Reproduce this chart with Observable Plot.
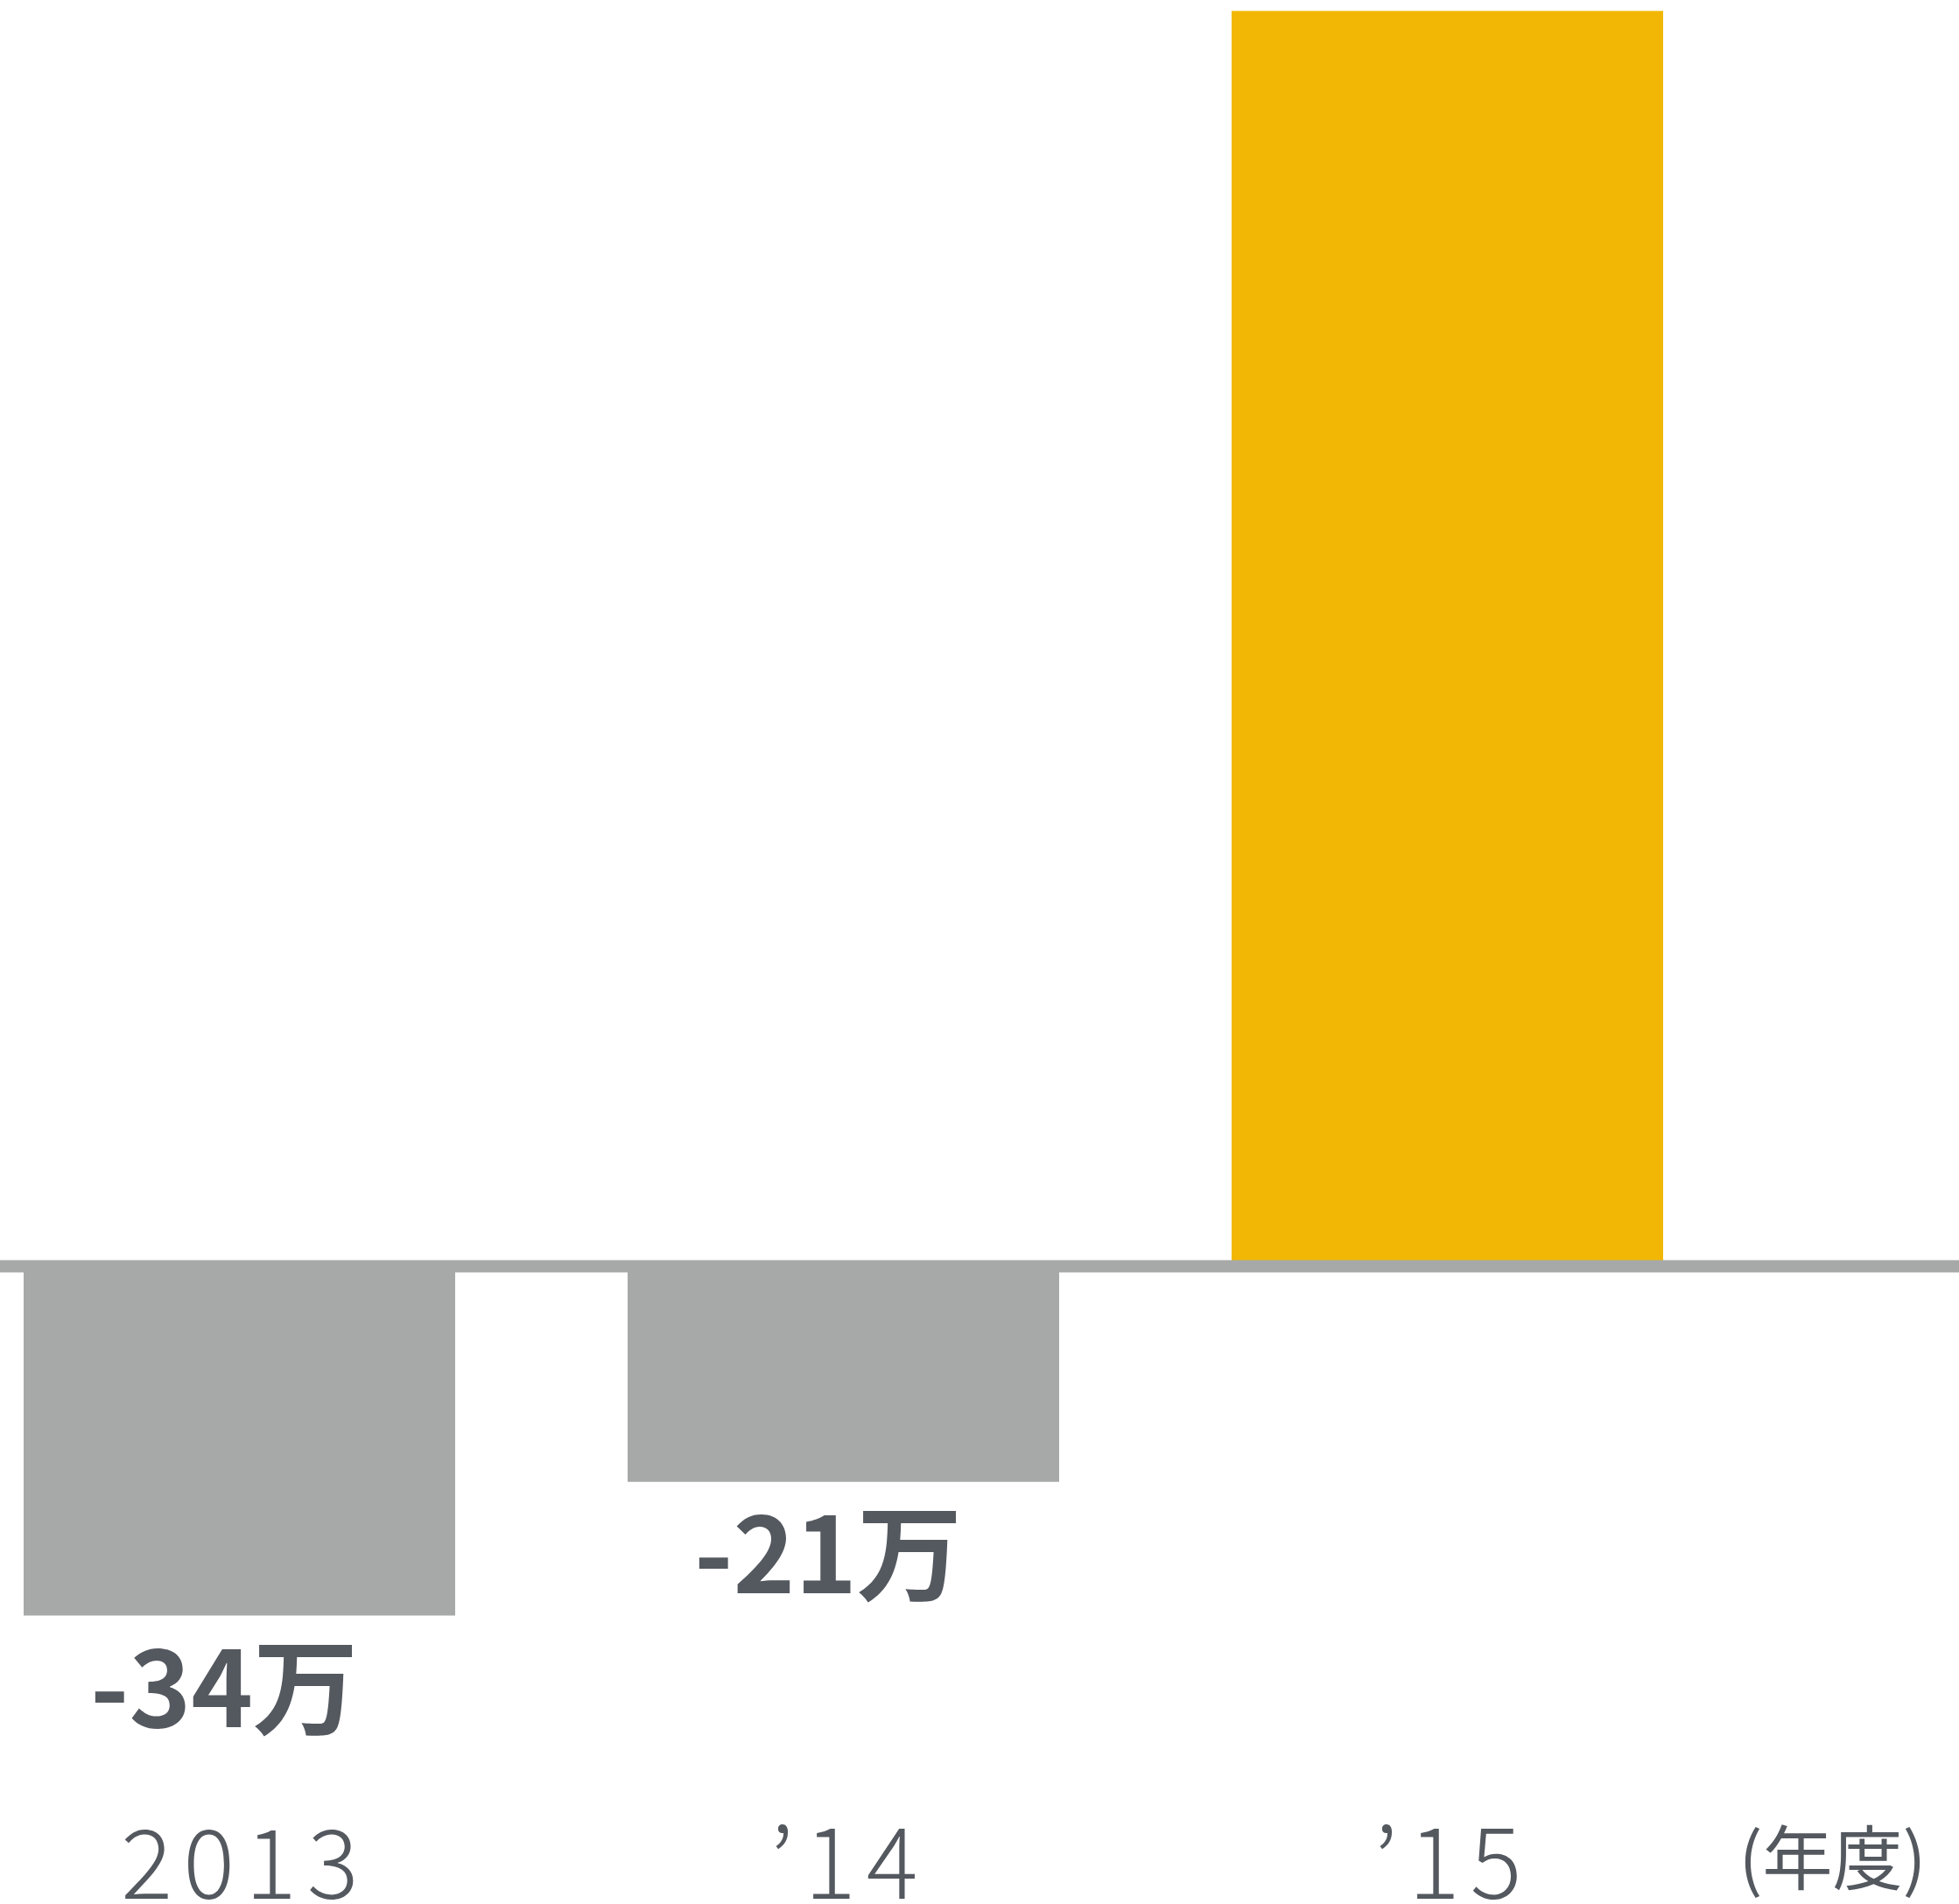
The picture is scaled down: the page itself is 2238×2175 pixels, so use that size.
<!DOCTYPE html>
<html>
<head>
<meta charset="utf-8">
<script src="https://cdn.jsdelivr.net/npm/d3@7"></script>
<script src="https://cdn.jsdelivr.net/npm/@observablehq/plot@0.6"></script>
<style>
  html, body { margin: 0; padding: 0; background: #ffffff; }
  #chart svg { display: block; }
  #chart g[aria-label="x-axis tick label"] text { letter-spacing: 12px; }
</style>
</head>
<body>
<div id="chart"></div>
<script>
const years = ["2013", "’14", "’15"];
const values = [-34, -21, 122];
const valueLabels = ["-34万", "-21万", ""];
const unitLabel = "(年度)";

const data = years.map((year, i) => ({ year, value: values[i], label: valueLabels[i] }));

const font = "'Noto Sans CJK JP', 'Noto Sans', sans-serif";
const textColor = "#54585f";

const chart = Plot.plot({
  width: 2238,
  height: 2175,
  marginLeft: 0,
  marginRight: 0,
  marginTop: 0,
  marginBottom: 100,
  style: { fontFamily: font, background: "#ffffff" },
  x: { domain: years, range: [0, 1927], paddingInner: 0.285, paddingOuter: 0.0377, label: null },
  y: { domain: [0, 100], range: [1446, 271], axis: null },
  marks: [
    Plot.barY(data, {
      x: "year",
      y1: 0,
      y2: "value",
      fill: d => d.value > 0 ? "#f2b705" : "#a6a9a8"
    }),
    Plot.ruleY([0], { stroke: "#a6a9a8", strokeWidth: 14 }),
    Plot.text(data.filter(d => d.label), {
      x: "year",
      y: "value",
      text: "label",
      lineAnchor: "top",
      dy: 42,
      dx: -18,
      fontSize: 120,
      fontWeight: "bold",
      fill: textColor
    }),
    Plot.axisX({
      tickSize: 0,
      tickPadding: 15,
      dx: 6,
      fontSize: 110,
      fontWeight: 300,
      color: textColor,
      label: null
    }),
    Plot.text([unitLabel], {
      frameAnchor: "bottom-right",
      lineAnchor: "top",
      dx: -38,
      dy: 20,
      fontSize: 80,
      fill: textColor
    })
  ]
});

document.getElementById("chart").appendChild(chart);
</script>
</body>
</html>
